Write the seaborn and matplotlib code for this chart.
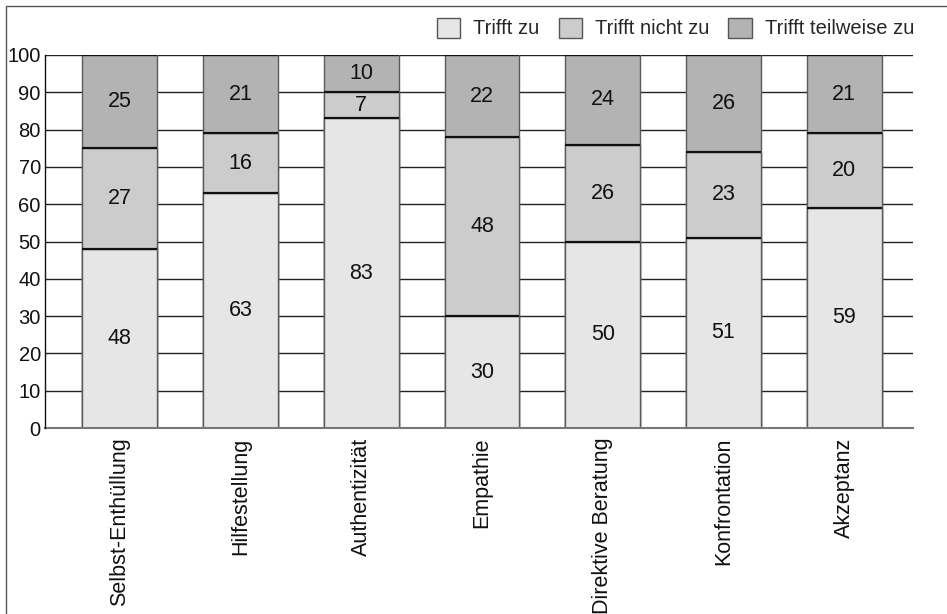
import matplotlib
matplotlib.use("Agg")
import matplotlib.pyplot as plt
from matplotlib.patches import Rectangle, Patch
import seaborn as sns
import numpy as np
import pandas as pd

categories = ["Selbst-Enthüllung", "Hilfestellung", "Authentizität", "Empathie",
              "Direktive Beratung", "Konfrontation", "Akzeptanz"]
trifft_zu = [48, 63, 83, 30, 50, 51, 59]
trifft_nicht_zu = [27, 16, 7, 48, 26, 23, 20]
trifft_teilweise_zu = [25, 21, 10, 22, 24, 26, 21]
series_names = ["Trifft zu", "Trifft nicht zu", "Trifft teilweise zu"]
series_colors = ["#e6e6e6", "#cccccc", "#b3b3b3"]
y_ticks = [0, 10, 20, 30, 40, 50, 60, 70, 80, 90, 100]

sns.set_theme(style="white")
plt.rcParams["font.family"] = ["Liberation Sans", "DejaVu Sans"]
FS = 14.5
FS_BIG = 15.5

fig = plt.figure(figsize=(9.47, 6.14), dpi=100)
ax = fig.add_axes([45 / 947, 1 - 428 / 614, (913 - 45) / 947, (428 - 55) / 614])

series = [trifft_zu, trifft_nicht_zu, trifft_teilweise_zu]
cum = np.cumsum(np.array(series), axis=0)
df = pd.DataFrame({"Kategorie": categories})

# horizontal grid behind the bars
for t in y_ticks[1:]:
    ax.axhline(t, color="#222222", lw=1.0, zorder=0)

# stacked bars: draw cumulative totals from the top segment down
for i in reversed(range(3)):
    df["wert"] = cum[i]
    sns.barplot(data=df, x="Kategorie", y="wert", color=series_colors[i],
                saturation=1, width=0.62, edgecolor="#5a5a5a", linewidth=1.0,
                ax=ax, zorder=2)

# dark separator lines at the top of each segment
for i in range(3):
    for j, c in enumerate(categories):
        ax.hlines(cum[i][j], j - 0.31, j + 0.31, color="#111111", lw=1.6, zorder=3)

# value labels in the middle of each segment
for i in range(3):
    bottoms = cum[i] - np.array(series[i])
    for j in range(len(categories)):
        v = series[i][j]
        ax.text(j, bottoms[j] + v / 2, str(v), ha="center", va="center",
                fontsize=FS_BIG, color="#111111", zorder=4)

ax.set_xlim(-0.62, 6.57)
ax.set_ylim(0, 100)
ax.set_yticks(y_ticks)
ax.set_yticklabels([str(t) for t in y_ticks], fontsize=FS, color="#111111")
ax.set_xticks(range(len(categories)))
ax.set_xticklabels(categories, rotation=90, fontsize=FS_BIG, color="#111111")
ax.tick_params(axis="both", length=0)
ax.tick_params(axis="x", pad=7)
ax.tick_params(axis="y", pad=3)
ax.set_xlabel("")
ax.set_ylabel("")
for s in ["top", "right"]:
    ax.spines[s].set_visible(False)
ax.spines["left"].set_color("#111111")
ax.spines["left"].set_linewidth(1.0)
ax.spines["bottom"].set_color("#777777")
ax.spines["bottom"].set_linewidth(1.5)
ax.spines["left"].set_zorder(5)

handles = [Patch(facecolor=c, edgecolor="#555555", linewidth=1.0, label=n)
           for c, n in zip(series_colors, series_names)]
fig.legend(handles=handles, loc="center right", bbox_to_anchor=(914 / 947, 1 - 28 / 614),
           ncol=3, frameon=False, fontsize=FS, handlelength=1.15, handleheight=1.15,
           handletextpad=0.65, columnspacing=0.95, borderaxespad=0, borderpad=0)

# outer frame of the figure
fig.patches.append(Rectangle((6 / 947, -0.5), 2.0, 0.5 + 1 - 6 / 614,
                             transform=fig.transFigure, fill=False,
                             edgecolor="#555555", linewidth=1.0))

fig.savefig("out.png", dpi=100)
